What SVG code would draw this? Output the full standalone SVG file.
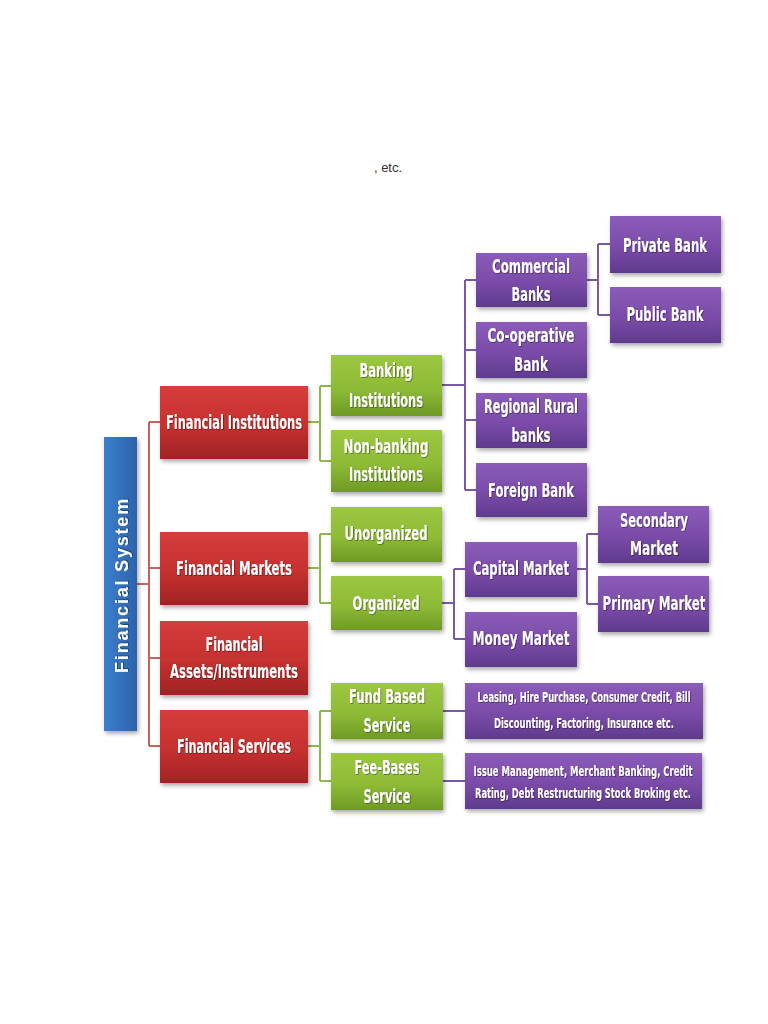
<svg xmlns="http://www.w3.org/2000/svg" width="768" height="1024" viewBox="0 0 768 1024">
<defs>
<linearGradient id="gRed" x1="0" y1="0" x2="0" y2="1"><stop offset="0" stop-color="#d43d3b"/><stop offset="0.55" stop-color="#c6302f"/><stop offset="1" stop-color="#a02325"/></linearGradient>
<linearGradient id="gGreen" x1="0" y1="0" x2="0" y2="1"><stop offset="0" stop-color="#9cc741"/><stop offset="0.55" stop-color="#8ebb36"/><stop offset="1" stop-color="#6f9a25"/></linearGradient>
<linearGradient id="gPurple" x1="0" y1="0" x2="0" y2="1"><stop offset="0" stop-color="#8a5cb8"/><stop offset="0.55" stop-color="#7a4ba8"/><stop offset="1" stop-color="#5f3a8e"/></linearGradient>
<linearGradient id="gBlue" x1="0" y1="0" x2="1" y2="0"><stop offset="0" stop-color="#3c7fcc"/><stop offset="1" stop-color="#2c63ac"/></linearGradient>
<filter id="sh" x="-10%" y="-10%" width="125%" height="130%"><feDropShadow dx="1.5" dy="2.5" stdDeviation="2" flood-color="#000" flood-opacity="0.35"/></filter>
<filter id="tsh" x="-20%" y="-50%" width="140%" height="200%"><feDropShadow dx="0.8" dy="0.8" stdDeviation="0.6" flood-color="#000" flood-opacity="0.45"/></filter>
</defs>
<style>
.lbl{font-family:"Liberation Sans Narrow","DejaVu Sans Condensed","Liberation Sans",sans-serif;font-weight:bold;fill:#fff;text-anchor:middle;font-size:19px;filter:url(#tsh)}
.sm{font-size:14.5px}
.red{fill:url(#gRed);filter:url(#sh)}
.green{fill:url(#gGreen);filter:url(#sh)}
.purple{fill:url(#gPurple);filter:url(#sh)}
.blue{fill:url(#gBlue);filter:url(#sh)}
.cr{stroke:#c9605e;stroke-width:2;fill:none}
.cg{stroke:#8fb84a;stroke-width:2;fill:none}
.cp{stroke:#7b58a3;stroke-width:2;fill:none}
</style>
<rect width="768" height="1024" fill="#fff"/>
<text x="388" y="172" font-family="Liberation Sans, sans-serif" font-size="13" fill="#333" text-anchor="middle">, etc.</text>

<g id="connectors">
<path class="cr" d="M137,584 H149 M149,422 V746 M149,422 H160 M149,568 H160 M149,658 H160 M149,746 H160"/>
<path class="cg" d="M308,422 H320 M320,386 V461 M320,386 H331 M320,461 H331"/>
<path class="cg" d="M308,568 H320 M320,534 V603 M320,534 H331 M320,603 H331"/>
<path class="cg" d="M308,746 H320 M320,711 V781 M320,711 H331 M320,781 H331"/>
<path class="cp" d="M441,385 H465 M465,280 V490 M465,280 H476 M465,350 H476 M465,420 H476 M465,490 H476"/>
<path class="cp" d="M587,280 H598 M598,244 V315 M598,244 H610 M598,315 H610"/>
<path class="cp" d="M441,603 H454 M454,569 V639 M454,569 H465 M454,639 H465"/>
<path class="cp" d="M577,569 H587 M587,534 V604 M587,534 H598 M587,604 H598"/>
<path class="cp" d="M443,711 H465 M443,781 H465"/>
</g>

<g id="financial-system"><rect class="blue" x="104" y="437" width="33" height="294"/>
<text transform="translate(128,585) rotate(-90)" font-family="Liberation Sans, sans-serif" font-weight="bold" font-size="18" fill="#fff" text-anchor="middle" letter-spacing="1.8" filter="url(#tsh)">Financial System</text></g>

<g id="financial-institutions"><rect class="red" x="160" y="386" width="148" height="73"/><text class="lbl" x="234" y="429" textLength="136" lengthAdjust="spacingAndGlyphs">Financial Institutions</text></g>
<g id="financial-markets"><rect class="red" x="160" y="532" width="148" height="73"/><text class="lbl" x="234" y="575" textLength="116" lengthAdjust="spacingAndGlyphs">Financial Markets</text></g>
<g id="financial-assets"><rect class="red" x="160" y="621" width="148" height="74"/><text class="lbl" x="234" y="651" textLength="57" lengthAdjust="spacingAndGlyphs">Financial</text><text class="lbl" x="234" y="678" textLength="128" lengthAdjust="spacingAndGlyphs">Assets/Instruments</text></g>
<g id="financial-services"><rect class="red" x="160" y="710" width="148" height="73"/><text class="lbl" x="234" y="753" textLength="114" lengthAdjust="spacingAndGlyphs">Financial Services</text></g>

<g id="banking-institutions"><rect class="green" x="331" y="355" width="111" height="61"/><text class="lbl" x="386" y="377" textLength="53" lengthAdjust="spacingAndGlyphs">Banking</text><text class="lbl" x="386" y="407" textLength="74" lengthAdjust="spacingAndGlyphs">Institutions</text></g>
<g id="non-banking-institutions"><rect class="green" x="331" y="430" width="111" height="62"/><text class="lbl" x="386" y="453" textLength="85" lengthAdjust="spacingAndGlyphs">Non-banking</text><text class="lbl" x="386" y="481" textLength="74" lengthAdjust="spacingAndGlyphs">Institutions</text></g>
<g id="unorganized"><rect class="green" x="331" y="507" width="111" height="55"/><text class="lbl" x="386" y="540" textLength="83" lengthAdjust="spacingAndGlyphs">Unorganized</text></g>
<g id="organized"><rect class="green" x="331" y="576" width="111" height="54"/><text class="lbl" x="386" y="610" textLength="67" lengthAdjust="spacingAndGlyphs">Organized</text></g>
<g id="fund-based"><rect class="green" x="331" y="683" width="112" height="56"/><text class="lbl" x="387" y="703" textLength="76" lengthAdjust="spacingAndGlyphs">Fund Based</text><text class="lbl" x="387" y="732" textLength="47" lengthAdjust="spacingAndGlyphs">Service</text></g>
<g id="fee-bases"><rect class="green" x="331" y="753" width="112" height="57"/><text class="lbl" x="387" y="774" textLength="65" lengthAdjust="spacingAndGlyphs">Fee-Bases</text><text class="lbl" x="387" y="803" textLength="47" lengthAdjust="spacingAndGlyphs">Service</text></g>

<g id="commercial-banks"><rect class="purple" x="476" y="253" width="111" height="54"/><text class="lbl" x="531" y="273" textLength="78" lengthAdjust="spacingAndGlyphs">Commercial</text><text class="lbl" x="531" y="301" textLength="39" lengthAdjust="spacingAndGlyphs">Banks</text></g>
<g id="co-operative-bank"><rect class="purple" x="476" y="322" width="111" height="56"/><text class="lbl" x="531" y="342" textLength="87" lengthAdjust="spacingAndGlyphs">Co-operative</text><text class="lbl" x="531" y="371" textLength="34" lengthAdjust="spacingAndGlyphs">Bank</text></g>
<g id="regional-rural-banks"><rect class="purple" x="476" y="393" width="111" height="55"/><text class="lbl" x="531" y="413" textLength="94" lengthAdjust="spacingAndGlyphs">Regional Rural</text><text class="lbl" x="531" y="442" textLength="39" lengthAdjust="spacingAndGlyphs">banks</text></g>
<g id="foreign-bank"><rect class="purple" x="476" y="463" width="111" height="54"/><text class="lbl" x="531" y="497" textLength="86" lengthAdjust="spacingAndGlyphs">Foreign Bank</text></g>
<g id="private-bank"><rect class="purple" x="610" y="216" width="111" height="57"/><text class="lbl" x="665" y="252" textLength="84" lengthAdjust="spacingAndGlyphs">Private Bank</text></g>
<g id="public-bank"><rect class="purple" x="610" y="287" width="111" height="56"/><text class="lbl" x="665" y="321" textLength="77" lengthAdjust="spacingAndGlyphs">Public Bank</text></g>

<g id="capital-market"><rect class="purple" x="465" y="542" width="112" height="55"/><text class="lbl" x="521" y="575" textLength="96" lengthAdjust="spacingAndGlyphs">Capital Market</text></g>
<g id="money-market"><rect class="purple" x="465" y="612" width="112" height="55"/><text class="lbl" x="521" y="645" textLength="97" lengthAdjust="spacingAndGlyphs">Money Market</text></g>
<g id="secondary-market"><rect class="purple" x="598" y="506" width="111" height="57"/><text class="lbl" x="654" y="527" textLength="68" lengthAdjust="spacingAndGlyphs">Secondary</text><text class="lbl" x="654" y="555" textLength="48" lengthAdjust="spacingAndGlyphs">Market</text></g>
<g id="primary-market"><rect class="purple" x="598" y="576" width="111" height="56"/><text class="lbl" x="654" y="610" textLength="103" lengthAdjust="spacingAndGlyphs">Primary Market</text></g>

<g id="fund-services"><rect class="purple" x="465" y="683" width="238" height="56"/><text class="lbl sm" x="584" y="702" textLength="213" lengthAdjust="spacingAndGlyphs">Leasing, Hire Purchase, Consumer Credit, Bill</text><text class="lbl sm" x="584" y="728" textLength="180" lengthAdjust="spacingAndGlyphs">Discounting, Factoring, Insurance etc.</text></g>
<g id="fee-services"><rect class="purple" x="465" y="753" width="237" height="56"/><text class="lbl sm" x="583" y="776" textLength="219" lengthAdjust="spacingAndGlyphs">Issue Management, Merchant Banking, Credit</text><text class="lbl sm" x="583" y="798" textLength="216" lengthAdjust="spacingAndGlyphs">Rating, Debt Restructuring Stock Broking etc.</text></g>
</svg>
